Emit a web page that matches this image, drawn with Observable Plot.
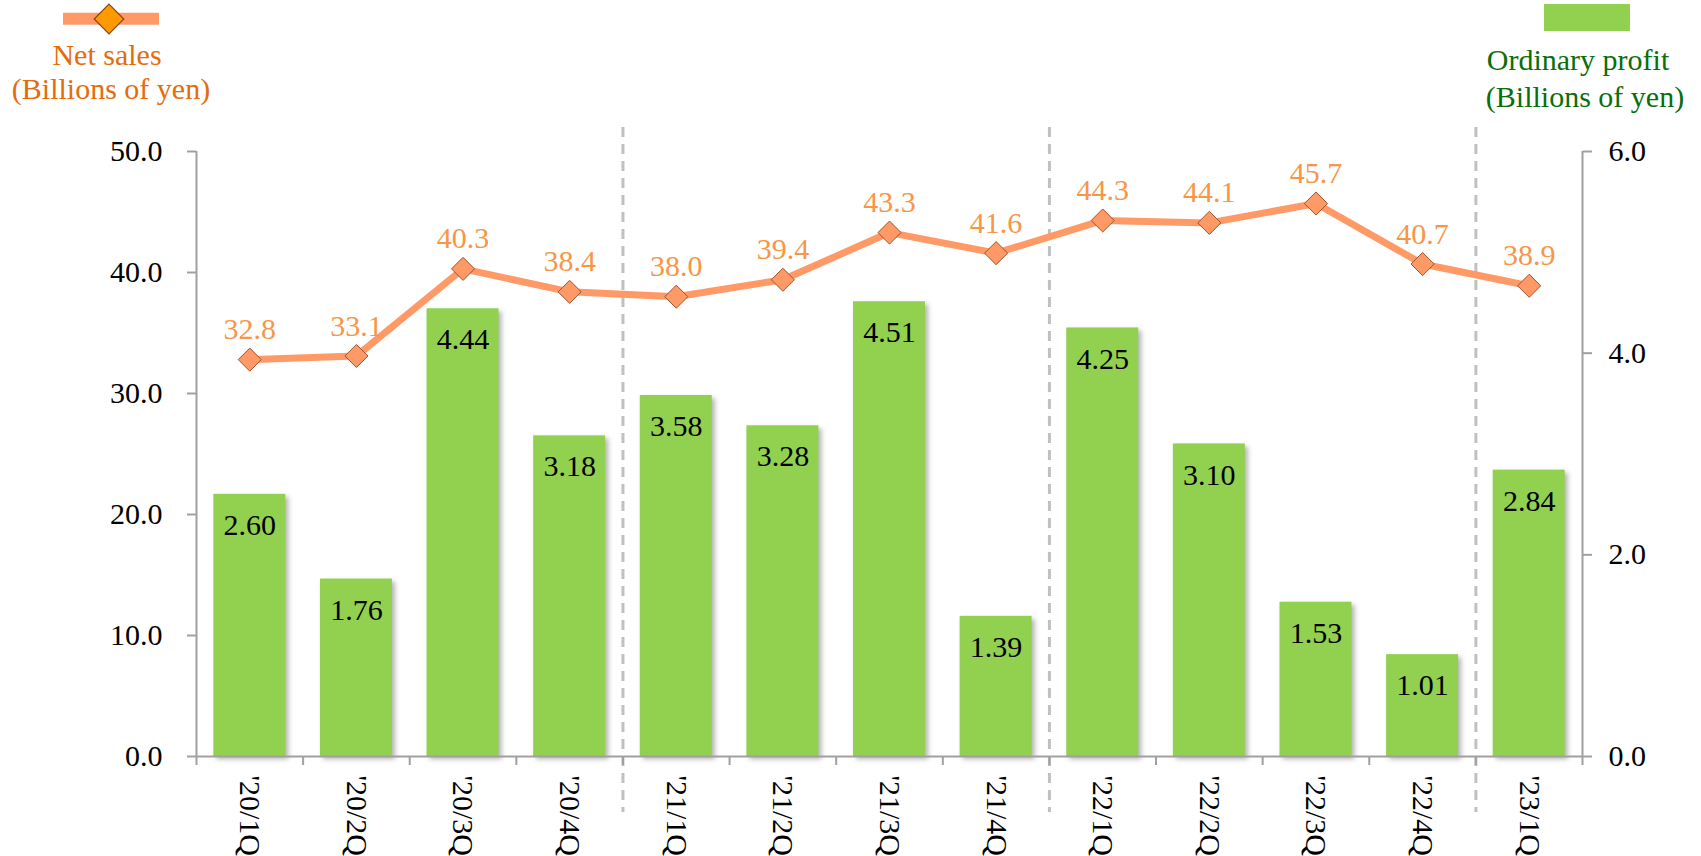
<!DOCTYPE html>
<html>
<head>
<meta charset="utf-8">
<script src="https://cdn.jsdelivr.net/npm/d3@7"></script>
<script src="https://cdn.jsdelivr.net/npm/@observablehq/plot@0.6"></script>
<style>
  html, body { margin: 0; padding: 0; background: #fff; }
  #wrap { position: relative; width: 1701px; height: 856px; font-family: "Liberation Serif", "Times New Roman", serif; }
  #legend { position: absolute; left: 0; top: 0; }
  g[aria-label="bar"] rect { filter: drop-shadow(3px 3px 2.5px rgba(0,0,0,0.30)); }
</style>
</head>
<body>
<div id="wrap"></div>
<script>
// ---- data ----
const quarters = ["'20/1Q","'20/2Q","'20/3Q","'20/4Q","'21/1Q","'21/2Q","'21/3Q","'21/4Q","'22/1Q","'22/2Q","'22/3Q","'22/4Q","'23/1Q"];
const netSales = [32.8, 33.1, 40.3, 38.4, 38.0, 39.4, 43.3, 41.6, 44.3, 44.1, 45.7, 40.7, 38.9];
const ordinaryProfit = [2.60, 1.76, 4.44, 3.18, 3.58, 3.28, 4.51, 1.39, 4.25, 3.10, 1.53, 1.01, 2.84];
const leftTicks = [0, 10, 20, 30, 40, 50];
const rightTicks = [0, 2, 4, 6];
const yearStarts = ["'21/1Q", "'22/1Q", "'23/1Q"];
const leftMax = 50, rightMax = 6;

const toLeft = v => v * leftMax / rightMax;
const data = quarters.map((q, i) => ({q, sales: netSales[i], profit: ordinaryProfit[i]}));

const W = 1701, H = 856, mL = 196, mR = 119, mT = 151, mB = 100;
const step = (W - mL - mR) / quarters.length;
const plotH = H - mT - mB;
const axisGray = "#A0A0A0";

const chart = Plot.plot({
  width: W, height: H,
  marginLeft: mL, marginRight: mR, marginTop: mT, marginBottom: mB,
  style: {fontFamily: "'Liberation Serif', 'Times New Roman', serif", fontSize: "30px", background: "white", overflow: "visible"},
  x: {domain: quarters, paddingInner: 0.325, paddingOuter: 0.1625, round: false, axis: null, label: null},
  y: {domain: [0, leftMax], axis: null, label: null},
  marks: [
    // year separators
    Plot.ruleX(yearStarts, {x: d => d, dx: -step / 2, stroke: "#C0C0C0", strokeWidth: 3, strokeDasharray: "10,7", insetTop: -24, insetBottom: -56}),
    // bars
    Plot.barY(data, {x: "q", y: d => toLeft(d.profit), fill: "#92D050"}),
    Plot.text(data, {x: "q", y: d => toLeft(d.profit), text: d => d.profit.toFixed(2), dy: 31, fill: "black", fontSize: 30}),
    // axes frame lines
    Plot.ruleY([0], {stroke: axisGray, strokeWidth: 2}),
    Plot.ruleX([quarters[0]], {x: d => d, dx: -step / 2, stroke: axisGray, strokeWidth: 2}),
    Plot.ruleX([quarters[quarters.length - 1]], {x: d => d, dx: step / 2, stroke: axisGray, strokeWidth: 2}),
    // category boundary ticks
    Plot.ruleX(quarters, {x: d => d, dx: -step / 2, stroke: axisGray, strokeWidth: 2, insetTop: plotH, insetBottom: -9}),
    Plot.ruleX([quarters[quarters.length - 1]], {x: d => d, dx: step / 2, stroke: axisGray, strokeWidth: 2, insetTop: plotH, insetBottom: -9}),
    // y axes
    Plot.axisY(leftTicks, {anchor: "left", label: null, tickFormat: d => d.toFixed(1), tickSize: 9, tickPadding: 25, stroke: axisGray, strokeWidth: 2, fill: "black", fontSize: 30}),
    Plot.axisY(rightTicks.map(toLeft), {anchor: "right", label: null, tickFormat: d => (d * rightMax / leftMax).toFixed(1), tickSize: 9, tickPadding: 17, stroke: axisGray, strokeWidth: 2, fill: "black", fontSize: 30}),
    // x axis labels
    Plot.axisX({label: null, tickSize: 0, tickPadding: 19, tickRotate: 90, fill: "black", fontSize: 30}),
    // net sales line
    Plot.line(data, {x: "q", y: "sales", stroke: "#FF9966", strokeWidth: 7}),
    Plot.dot(data, {x: "q", y: "sales", symbol: "diamond2", r: 10.4, fill: "#FF9966", stroke: "#A0522D", strokeWidth: 1}),
    Plot.text(data, {x: "q", y: "sales", text: d => d.sales.toFixed(1), dy: -30, fill: "#F79646", fontSize: 30})
  ]
});

const wrap = document.getElementById("wrap");
wrap.appendChild(chart);

// legend overlay
const lg = d3.select(wrap).append("svg").attr("id", "legend").attr("width", W).attr("height", 130)
  .style("font-family", "'Liberation Serif', 'Times New Roman', serif").style("font-size", "30px");
lg.append("line").attr("x1", 63).attr("x2", 159).attr("y1", 18.7).attr("y2", 18.7).attr("stroke", "#FF9966").attr("stroke-width", 12);
lg.append("path").attr("d", d3.symbol(d3.symbolDiamond2, 560)()).attr("transform", "translate(109,19)").attr("fill", "#FF9900").attr("stroke", "#8B4513").attr("stroke-width", 1.2);
lg.append("text").attr("x", 107).attr("y", 65).attr("text-anchor", "middle").attr("fill", "#E46C0A").text("Net sales");
lg.append("text").attr("x", 111).attr("y", 99).attr("text-anchor", "middle").attr("fill", "#E46C0A").text("(Billions of yen)");
lg.append("rect").attr("x", 1544).attr("y", 4).attr("width", 86).attr("height", 27).attr("fill", "#92D050");
lg.append("text").attr("x", 1578).attr("y", 70).attr("text-anchor", "middle").attr("fill", "#0A6E0A").text("Ordinary profit");
lg.append("text").attr("x", 1585).attr("y", 107).attr("text-anchor", "middle").attr("fill", "#0A6E0A").text("(Billions of yen)");
</script>
</body>
</html>
